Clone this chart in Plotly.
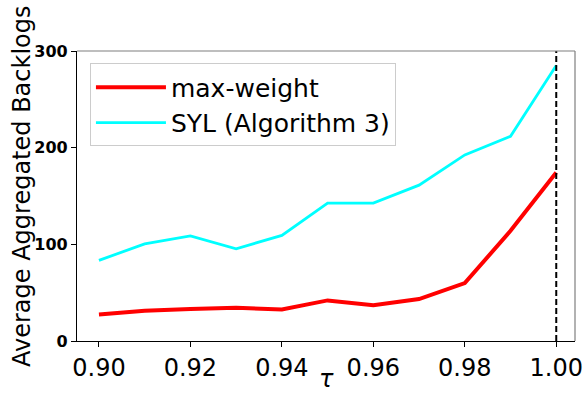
import plotly.graph_objects as go

tau = [0.90, 0.91, 0.92, 0.93, 0.94, 0.95, 0.96, 0.97, 0.98, 0.99, 1.00]
max_weight = [27.5, 31.3, 33.0, 34.4, 32.7, 42.0, 36.9, 43.4, 59.9, 114.0, 174.3]
syl = [83.4, 100.5, 108.8, 95.4, 109.2, 142.6, 142.6, 161.2, 192.5, 211.8, 285.0]
x_ticks = [0.90, 0.92, 0.94, 0.96, 0.98, 1.00]
x_tick_labels = ["0.90", "0.92", "0.94", "0.96", "0.98", "1.00"]
y_ticks = [0, 100, 200, 300]
y_tick_labels = ["0", "100", "200", "300"]
vline_x = 1.00

FONT = "DejaVu Sans"

fig = go.Figure()
fig.add_trace(go.Scatter(x=tau, y=max_weight, mode="lines", name="max-weight",
                         line=dict(color="#ff0000", width=4)))
fig.add_trace(go.Scatter(x=tau, y=syl, mode="lines", name="SYL (Algorithm 3)",
                         line=dict(color="#00ffff", width=2.8)))

fig.add_shape(type="line", xref="x", yref="paper", x0=vline_x, x1=vline_x, y0=0, y1=1,
              line=dict(color="black", width=2, dash="6px,3px"))
# top and right spines (gray)
fig.add_shape(type="line", xref="paper", yref="paper", x0=0, x1=1, y0=1, y1=1,
              line=dict(color="#7f7f7f", width=1.2))
fig.add_shape(type="line", xref="paper", yref="paper", x0=1, x1=1, y0=0, y1=1,
              line=dict(color="#7f7f7f", width=1.2))

fig.update_layout(
    width=584, height=396,
    margin=dict(l=77, r=9, t=51, b=55),
    paper_bgcolor="white", plot_bgcolor="white",
    font=dict(family=FONT, color="black"),
    showlegend=True,
    legend=dict(x=0.026, y=0.957, xanchor="left", yanchor="top",
                bgcolor="rgba(255,255,255,0.9)", bordercolor="#cccccc", borderwidth=1,
                font=dict(family=FONT, size=25, color="black"),
                tracegroupgap=0, itemwidth=70),
    annotations=[
        dict(text="Average Aggregated Backlogs", xref="paper", yref="paper",
             x=(22 - 77) / 498, y=(341 - 186) / 290, xanchor="center", yanchor="middle",
             textangle=-90, showarrow=False, font=dict(family=FONT, size=24, color="black")),
        dict(text="<i>τ</i>", xref="paper", yref="paper",
             x=0.5, y=(341 - 395) / 290, xanchor="center", yanchor="bottom",
             showarrow=False, font=dict(family=FONT, size=24, color="black")),
    ],
)

fig.update_xaxes(range=[0.8952, 1.0041], tickvals=x_ticks, ticktext=x_tick_labels,
                 automargin=False,
                 showgrid=False, zeroline=False, showline=True, linecolor="black", linewidth=1.2,
                 ticks="outside", ticklen=5, tickwidth=1, tickcolor="black",
                 tickfont=dict(family=FONT, size=24, color="black"))
fig.update_yaxes(range=[0, 300], tickvals=y_ticks, ticktext=[f"<b>{t}</b>" for t in y_tick_labels],
                 automargin=False,
                 showgrid=False, zeroline=False, showline=True, linecolor="black", linewidth=1.2,
                 ticks="outside", ticklen=5, tickwidth=1, tickcolor="black",
                 tickfont=dict(family=FONT, size=16, color="black"))

fig.write_html("out.html", config={"displayModeBar": False},
               post_script="document.body.style.margin='0';document.body.style.padding='0';")
